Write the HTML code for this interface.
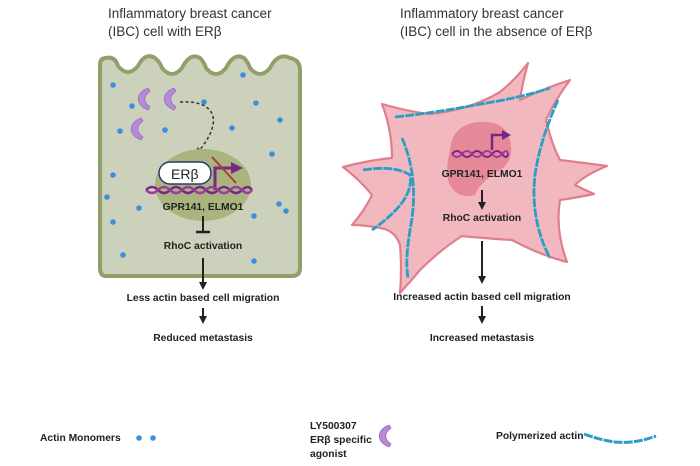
<!DOCTYPE html>
<html><head><meta charset="utf-8"><style>
html,body{margin:0;padding:0;background:#fff;}
svg{display:block;}
text{font-family:"Liberation Sans",sans-serif;}
.b{font-weight:bold;font-size:10.3px;fill:#222;}
.t{font-size:13.5px;fill:#333;}
</style></head><body>
<svg width="700" height="466" viewBox="0 0 700 466" xmlns="http://www.w3.org/2000/svg">
<defs>
<marker id="ah" markerWidth="8" markerHeight="8" refX="4" refY="4" orient="auto" markerUnits="userSpaceOnUse"><path d="M0,0 L8,4 L0,8 z" fill="#222"/></marker>
<marker id="ah2" markerWidth="7" markerHeight="7" refX="3.5" refY="3.5" orient="auto" markerUnits="userSpaceOnUse"><path d="M0,0 L7,3.5 L0,7 z" fill="#333"/></marker>
<g id="cres"><path d="M10,0 C-3,5 -3,17 10,22 L12,19 C5,14 5,8 12,3 Z" fill="#b68ad6" stroke="#9a6cc2" stroke-width="0.8"/></g>
</defs>
<!-- titles -->
<text class="t" x="108" y="18">Inflammatory breast cancer</text>
<text class="t" x="108" y="36">(IBC) cell with ERβ</text>
<text class="t" x="400" y="18">Inflammatory breast cancer</text>
<text class="t" x="400" y="36">(IBC) cell in the absence of ERβ</text>

<!-- left cell -->
<path d="M100,65 Q100,58 106,58 Q115,56 118,66 Q128,78 138,66 Q145,52 155,58 Q160,62 162,68 Q172,80 182,68 Q190,52 200,58 Q204,62 206,68 Q216,80 226,68 Q234,52 244,58 Q248,62 250,68 Q260,80 270,68 Q278,52 290,58 Q300,60 300,70 L300,268 Q300,276 292,276 L106,276 Q100,276 100,268 Z" fill="#ccd1bc" stroke="#91a06b" stroke-width="4"/>
<g fill="#3d8fdc">
<circle cx="113" cy="85" r="2.8"/><circle cx="132" cy="106" r="2.8"/><circle cx="204" cy="102" r="2.8"/><circle cx="256" cy="103" r="2.8"/><circle cx="243" cy="75" r="2.8"/><circle cx="280" cy="120" r="2.8"/>
<circle cx="120" cy="131" r="2.8"/><circle cx="165" cy="130" r="2.8"/><circle cx="232" cy="128" r="2.8"/><circle cx="272" cy="154" r="2.8"/>
<circle cx="113" cy="175" r="2.8"/><circle cx="107" cy="197" r="2.8"/><circle cx="139" cy="208" r="2.8"/><circle cx="113" cy="222" r="2.8"/><circle cx="254" cy="216" r="2.8"/><circle cx="279" cy="204" r="2.8"/><circle cx="286" cy="211" r="2.8"/><circle cx="123" cy="255" r="2.8"/><circle cx="254" cy="261" r="2.8"/>
</g>
<use href="#cres" x="138" y="88"/><use href="#cres" x="164" y="88"/><use href="#cres" x="131" y="118"/>
<path d="M180,102 C215,100 225,120 198,152" fill="none" stroke="#333" stroke-width="1.5" stroke-dasharray="3,2.5" marker-end="url(#ah2)"/>
<ellipse cx="203" cy="185" rx="48" ry="36" fill="#a9b47e"/>
<rect x="159" y="162" width="52" height="22" rx="11" fill="#fff" stroke="#2b3a6b" stroke-width="1.5"/>
<text x="171" y="179" font-size="14" fill="#222">ERβ</text>
<path d="M215,190 L215,168 L232,168" fill="none" stroke="#7a2685" stroke-width="3"/>
<path d="M231,162 L243,168 L231,174 z" fill="#7a2685"/>
<line x1="212" y1="157" x2="236" y2="183" stroke="#b23a3a" stroke-width="2"/>
<path d="M146,190 q6,-6 12,0 t12,0 t12,0 t12,0 t12,0 t12,0 t12,0 t12,0 t10,0" fill="none" stroke="#7a2685" stroke-width="2.4"/>
<path d="M146,190 q6,6 12,0 t12,0 t12,0 t12,0 t12,0 t12,0 t12,0 t12,0 t10,0" fill="none" stroke="#9a3c9e" stroke-width="2.4"/>
<text class="b" x="203" y="210" text-anchor="middle">GPR141, ELMO1</text>
<line x1="203" y1="216" x2="203" y2="232" stroke="#222" stroke-width="2"/>
<line x1="196" y1="232" x2="210" y2="232" stroke="#222" stroke-width="2.5"/>
<text class="b" x="203" y="249" text-anchor="middle">RhoC activation</text>
<line x1="203" y1="258" x2="203" y2="286" stroke="#222" stroke-width="2" marker-end="url(#ah)"/>
<text class="b" x="203" y="301" text-anchor="middle">Less actin based cell migration</text>
<line x1="203" y1="308" x2="203" y2="320" stroke="#222" stroke-width="2" marker-end="url(#ah)"/>
<text class="b" x="203" y="341" text-anchor="middle" font-size="10.8">Reduced metastasis</text>

<!-- right cell -->
<path d="M382,104 Q410,112 430,114 Q470,110 500,92 Q515,80 528,63 Q522,85 520,100 Q545,88 570,80 Q555,100 546,120 Q552,145 560,160 Q585,163 607,166 Q585,175 575,185 Q585,190 594,194 Q575,198 560,200 Q555,230 567,262 Q540,255 512,240 Q480,238 462,236 Q440,250 420,270 Q410,282 400,293 Q402,270 400,245 Q395,230 380,228 Q365,225 352,225 Q365,210 372,195 Q360,180 343,167 Q370,160 392,158 Q392,130 382,104 Z" fill="#f2b8c0" stroke="#e07f8c" stroke-width="2.2" stroke-linejoin="round"/>
<g fill="none" stroke="#2a9ec4" stroke-width="2.8" stroke-dasharray="9,1.2">
<path d="M395,117 Q440,112 475,105 Q520,98 550,88"/>
<path d="M402,138 Q420,180 410,230 Q405,260 408,278"/>
<path d="M363,170 Q395,165 410,175 Q415,200 372,230"/>
<path d="M558,100 Q540,140 535,175 Q530,220 550,258"/>
</g>
<path d="M450,150 Q452,125 478,122 Q505,120 510,140 Q515,160 500,170 Q480,182 475,195 Q455,200 448,180 Q446,165 450,150 Z" fill="#e0788a" opacity="0.75"/>
<path d="M492,150 L492,135 L503,135" fill="none" stroke="#7a2685" stroke-width="2.5"/>
<path d="M502,130 L511,135 L502,140 z" fill="#7a2685"/>
<path d="M452,154 q5,-6 10,0 t10,0 t10,0 t10,0 t10,0 t6,0" fill="none" stroke="#7a2685" stroke-width="2"/>
<path d="M452,154 q5,6 10,0 t10,0 t10,0 t10,0 t10,0 t6,0" fill="none" stroke="#9a3c9e" stroke-width="2"/>
<text class="b" x="482" y="177" text-anchor="middle">GPR141, ELMO1</text>
<line x1="482" y1="190" x2="482" y2="206" stroke="#222" stroke-width="2" marker-end="url(#ah)"/>
<text class="b" x="482" y="221" text-anchor="middle">RhoC activation</text>
<line x1="482" y1="241" x2="482" y2="280" stroke="#222" stroke-width="2" marker-end="url(#ah)"/>
<text class="b" x="482" y="300" text-anchor="middle">Increased actin based cell migration</text>
<line x1="482" y1="306" x2="482" y2="320" stroke="#222" stroke-width="2" marker-end="url(#ah)"/>
<text class="b" x="482" y="341" text-anchor="middle" font-size="10.8">Increased metastasis</text>

<!-- legend -->
<text class="b" x="40" y="441" font-size="9.5">Actin Monomers</text>
<circle cx="139" cy="438" r="2.8" fill="#3d8fdc"/><circle cx="153" cy="438" r="2.8" fill="#3d8fdc"/>
<text class="b" x="310" y="429" font-size="9.5">LY500307</text>
<text class="b" x="310" y="443" font-size="9.5">ERβ specific</text>
<text class="b" x="310" y="457" font-size="9.5">agonist</text>
<use href="#cres" x="379" y="425"/>
<text class="b" x="496" y="439" font-size="9.5">Polymerized actin</text>
<path d="M584,434 Q600,440 615,442 Q635,444 656,436" fill="none" stroke="#2a9ec4" stroke-width="3" stroke-dasharray="9,1.2"/>
</svg>
</body></html>
